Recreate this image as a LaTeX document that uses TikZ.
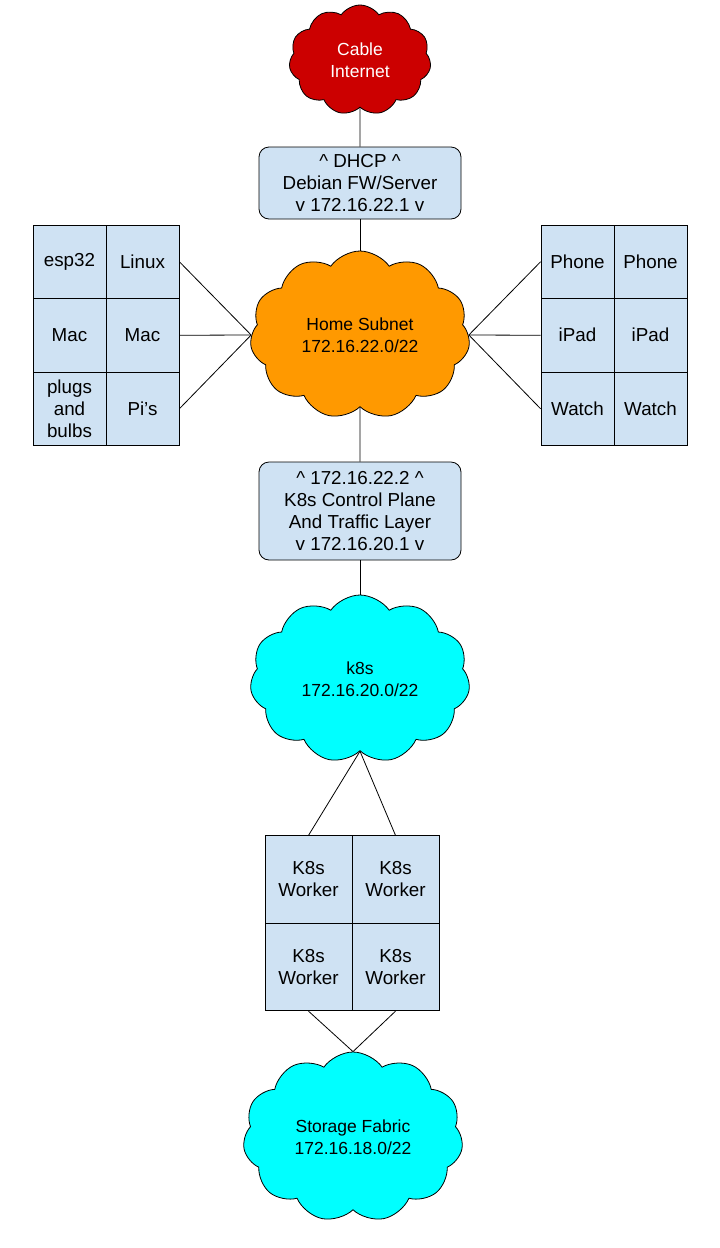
\documentclass[tikz,border=0pt]{standalone}
\usepackage{fontspec}
\setmainfont{Liberation Sans}
\usetikzlibrary{shapes.symbols}
\definecolor{cellblue}{HTML}{CFE2F3}
\definecolor{netred}{HTML}{CC0000}
\definecolor{netorange}{HTML}{FF9900}
\definecolor{netcyan}{HTML}{00FFFF}
\tikzset{
	net/.style={cloud, cloud puffs=11, cloud puff arc=110, cloud ignores aspect, draw=black, line width=0.8pt, align=center, inner sep=0pt, font=\fontsize{17.5}{22}\selectfont},
	gate/.style={draw, line width=0.8pt, rounded corners=10pt, fill=cellblue, minimum width=202pt, inner sep=0pt, align=center, font=\fontsize{18.8}{22}\selectfont},
	cell/.style={draw, line width=0.8pt, fill=cellblue, inner sep=0pt, align=center, font=\fontsize{18.8}{22}\selectfont},
	dev/.style={cell, minimum width=73pt, minimum height=73.5pt},
	worker/.style={cell, minimum width=87pt, minimum height=87.5pt},
	wire/.style={line width=0.8pt}
}

\begin{document}
\begin{tikzpicture}[x=1pt, y=-1pt]
	%%%%% START %%%%%
	\useasboundingbox[fill=white] (0,0) rectangle (720,1248);
	
	\node[net, fill=netred, text=white, minimum width=142pt, minimum height=110pt] (inet) at (360,60) {Cable\\Internet};
	\node[gate, minimum height=72pt] (fw) at (360,183) {\textasciicircum{} DHCP \textasciicircum{}\\Debian FW/Server\\ v 172.16.22.1 v};
	
	\node[net, fill=netorange, minimum width=220pt, minimum height=168pt] (home) at (360,335) {Home Subnet\\172.16.22.0/22};
	
	% wired devices
	\node[dev] (esp) at (69.5,261.75) {esp32};
	\node[dev] (linux) at (142.5,261.75) {Linux};
	\node[dev] (maca) at (69.5,335.25) {Mac};
	\node[dev] (macb) at (142.5,335.25) {Mac};
	\node[dev] (plugs) at (69.5,408.75) {plugs\\and\\bulbs};
	\node[dev] (pis) at (142.5,408.75) {Pi’s};
	
	% wireless devices
	\node[dev] (phonea) at (577.5,261.75) {Phone};
	\node[dev] (phoneb) at (650.5,261.75) {Phone};
	\node[dev] (ipada) at (577.5,335.25) {iPad};
	\node[dev] (ipadb) at (650.5,335.25) {iPad};
	\node[dev] (watcha) at (577.5,408.75) {Watch};
	\node[dev] (watchb) at (650.5,408.75) {Watch};
	
	\node[gate, minimum height=98pt] (ctl) at (360,511) {\textasciicircum{} 172.16.22.2 \textasciicircum{}\\K8s Control Plane\\And Traffic Layer\\ v 172.16.20.1 v};
	
	\node[net, fill=netcyan, minimum width=220pt, minimum height=168pt] (k8s) at (360,679) {k8s\\172.16.20.0/22};
	
	\node[worker] (wka) at (308.5,879.5) {K8s\\Worker};
	\node[worker] (wkb) at (395.5,879.5) {K8s\\Worker};
	\node[worker] (wkc) at (308.5,967) {K8s\\Worker};
	\node[worker] (wkd) at (395.5,967) {K8s\\Worker};
	
	\node[net, fill=netcyan, minimum width=220pt, minimum height=170pt] (store) at (353,1137) {Storage Fabric\\172.16.18.0/22};
	
	% links
	\draw[wire] (inet.south) -- (fw.north);
	\draw[wire] (fw.south) -- (home.north);
	\draw[wire] (linux.east) -- (home.west);
	\draw[wire] (macb.east) -- (home.west);
	\draw[wire] (pis.east) -- (home.west);
	\draw[wire] (home.east) -- (phonea.west);
	\draw[wire] (home.east) -- (ipada.west);
	\draw[wire] (home.east) -- (watcha.west);
	\draw[wire] (home.south) -- (ctl.north);
	\draw[wire] (ctl.south) -- (k8s.north);
	\draw[wire] (k8s.south) -- (wka.north);
	\draw[wire] (k8s.south) -- (wkb.north);
	\draw[wire] (wkc.south) -- (store.north);
	\draw[wire] (wkd.south) -- (store.north);
	
	%%%%% END %%%%%
\end{tikzpicture}
\end{document}
